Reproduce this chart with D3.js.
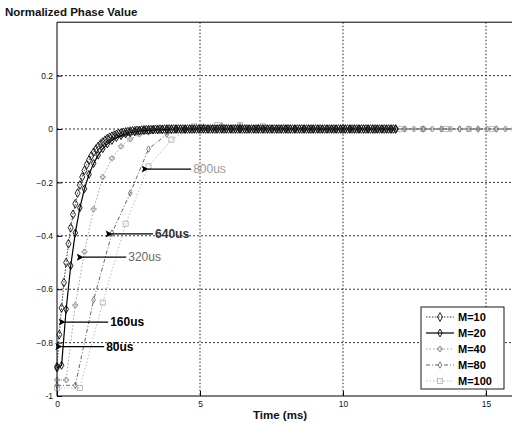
<!DOCTYPE html>
<html>
<head>
<meta charset="utf-8">
<script src="https://cdn.jsdelivr.net/npm/d3@7"></script>
<style>
  body { margin: 0; background: #fff; }
  svg { display: block; font-family: "Liberation Sans", Arial, sans-serif; }
</style>
</head>
<body>
<div id="chart"></div>
<script>
// sample spacing (ms) for each series is M * 8us
const seriesNames = ["M=10", "M=20", "M=40", "M=80", "M=100"];
const sampleStep = [0.08, 0.16, 0.32, 0.64, 0.8];

// normalized phase values
const m10 = [
  -0.89, -0.77, -0.67, -0.575, -0.50, -0.43, -0.37, -0.32, -0.28, -0.24,
  -0.21, -0.18, -0.155, -0.134, -0.116, -0.10, -0.087, -0.075, -0.065, -0.056,
  -0.049, -0.042, -0.036, -0.031, -0.027, -0.023, -0.020, -0.017, -0.015, -0.013,
  -0.011, -0.010, -0.008, -0.007, -0.006, -0.005, -0.005, -0.004, -0.003, -0.003,
  -0.002, -0.002, -0.002, -0.001, -0.001, -0.001, -0.001,
  0, 0, 0, 0, 0, 0, 0, 0, 0, 0, 0, 0, 0, 0, 0, 0, 0,
  0, 0, 0, 0, 0, 0, 0, 0, 0, 0, 0, 0, 0, 0, 0, 0, 0,
  0, 0, 0, 0, 0, 0, 0, 0, 0, 0, 0, 0, 0, 0, 0, 0, 0,
  0, 0, 0, 0, 0, 0, 0, 0, 0, 0, 0, 0, 0, 0, 0, 0, 0,
  0, 0, 0, 0, 0, 0, 0, 0, 0, 0, 0, 0, 0, 0, 0, 0, 0,
  0, 0, 0, 0, 0, 0, 0, 0, 0, 0, 0, 0, 0, 0, 0, 0, 0
];
const m20 = [
  -0.895, -0.885, -0.675, -0.512, -0.389, -0.295, -0.224, -0.170, -0.129, -0.098,
  -0.074, -0.056, -0.043, -0.032, -0.025, -0.019, -0.014, -0.011, -0.008, -0.006,
  -0.005, -0.004, -0.003, -0.002, -0.002, -0.001,
  0, 0, 0, 0, 0, 0, 0, 0, 0, 0, 0, 0, 0, 0, 0, 0, 0,
  0, 0, 0, 0, 0, 0, 0, 0, 0, 0, 0, 0, 0, 0, 0, 0, 0,
  0, 0, 0, 0, 0, 0, 0, 0, 0, 0, 0, 0, 0, 0, 0
];
const m40 = [
  -0.94, -0.94, -0.66, -0.46, -0.30, -0.18, -0.11, -0.065, -0.038, -0.02,
  -0.012, -0.006, -0.003, -0.001, 0.002, 0.003, 0.003, 0.002, 0.001,
  0, 0, 0, 0, 0, 0, 0, 0, 0, 0, 0, 0, 0, 0, 0, 0, 0,
  0, 0, 0, 0, 0, 0, 0, 0, 0, 0, 0, 0, 0, 0, 0
];
const m80 = [
  -0.96, -0.96, -0.64, -0.39, -0.24, -0.075, -0.02, -0.005, 0.008, 0.012,
  0.01, 0.006, 0.003, 0.001,
  0, 0, 0, 0, 0, 0, 0, 0, 0, 0, 0, 0
];
const m100 = [
  -0.97, -0.97, -0.65, -0.355, -0.14, -0.04, 0.01, 0.015, 0.015, 0.01,
  0.005, 0.002,
  0, 0, 0, 0, 0, 0, 0, 0, 0
];
const seriesValues = [m10, m20, m40, m80, m100];

const xTicks = [0, 5, 10, 15];
const yTicks = [-1, -0.8, -0.6, -0.4, -0.2, 0, 0.2];

// arrow annotations: tip at (t, v), label starting at time tText
const notes = [
  {label: "80us",  t: 0.16, v: -0.815, tText: 1.72, color: "#000", bold: true},
  {label: "160us", t: 0.28, v: -0.723, tText: 1.86, color: "#000", bold: true},
  {label: "320us", t: 0.91, v: -0.48,  tText: 2.49, color: "#666", bold: false},
  {label: "640us", t: 1.92, v: -0.393, tText: 3.43, color: "#333", bold: true},
  {label: "800us", t: 3.18, v: -0.15,  tText: 4.76, color: "#999", bold: false}
];

const width = 512, height = 424;
const svg = d3.select("#chart").append("svg")
  .attr("width", width).attr("height", height);

const x = d3.scaleLinear([0, 16], [57, 514.6]);
const y = d3.scaleLinear([-1, 0.4], [396, 22.2]);

const styles = [
  {stroke: "#222", width: 0.9, dash: "1.5,1.5", symbol: d3.symbolDiamond, size: 22, mstroke: "#111", mw: 0.9},
  {stroke: "#000", width: 1.2, dash: null,      symbol: d3.symbolDiamond, size: 18, mstroke: "#000", mw: 0.9},
  {stroke: "#888", width: 0.8, dash: "1.5,2",   symbol: d3.symbolCross,   size: 14, mstroke: "#888", mw: 0.8},
  {stroke: "#555", width: 0.9, dash: "4,2,1,2", symbol: d3.symbolDiamond, size: 12, mstroke: "#666", mw: 0.8},
  {stroke: "#aaa", width: 0.8, dash: "1.5,2",   symbol: d3.symbolSquare,  size: 26, mstroke: "#aaa", mw: 0.8}
];

// grid
const grid = svg.append("g");
grid.selectAll(".gx").data(xTicks.filter(d => d > 0)).join("line")
  .attr("x1", d => x(d)).attr("x2", d => x(d))
  .attr("y1", y(0.4)).attr("y2", y(-1))
  .attr("stroke", "#222").attr("stroke-width", 1).attr("stroke-dasharray", "1.5,2");
grid.selectAll(".gy").data(yTicks.filter(d => d > -1)).join("line")
  .attr("x1", x(0)).attr("x2", x(16))
  .attr("y1", d => y(d)).attr("y2", d => y(d))
  .attr("stroke", "#222").attr("stroke-width", 0.9).attr("stroke-dasharray", "2,2");

// curves (drawn so the darker series end up on top)
const line = d3.line().x(d => x(d[0])).y(d => y(d[1]));
const plot = svg.append("g");
[4, 3, 2, 1, 0].forEach(k => {
  const vals = seriesValues[k];
  const pts = vals.map((v, i) => [i * sampleStep[k], v]);
  const st = styles[k];
  plot.append("path")
    .attr("d", line(pts))
    .attr("fill", "none")
    .attr("stroke", st.stroke)
    .attr("stroke-width", st.width)
    .attr("stroke-dasharray", st.dash);
  plot.append("g").selectAll("path").data(pts).join("path")
    .attr("transform", d => `translate(${x(d[0])},${y(d[1])})`)
    .attr("d", d3.symbol(st.symbol, st.size))
    .attr("fill", "none")
    .attr("stroke", st.mstroke)
    .attr("stroke-width", st.mw);
});

// axes box
svg.append("line").attr("x1", x(0)).attr("x2", x(0)).attr("y1", y(0.4)).attr("y2", y(-1))
  .attr("stroke", "#000");
svg.append("line").attr("x1", x(0)).attr("x2", x(16)).attr("y1", y(0.4)).attr("y2", y(0.4))
  .attr("stroke", "#000");
svg.append("line").attr("x1", x(0)).attr("x2", x(16)).attr("y1", y(-1)).attr("y2", y(-1))
  .attr("stroke", "#000");

const xAxis = svg.append("g")
  .attr("transform", `translate(0,${y(-1)})`)
  .call(d3.axisBottom(x).tickValues(xTicks).tickSize(-5).tickPadding(5).tickFormat(d3.format("d")));
const yAxis = svg.append("g")
  .attr("transform", `translate(${x(0)},0)`)
  .call(d3.axisLeft(y).tickValues(yTicks).tickSize(-5).tickPadding(4)
    .tickFormat(d => d === 0 ? "0" : d === -1 ? "-1" : d3.format(".1f")(d)));
[xAxis, yAxis].forEach(a => {
  a.select(".domain").remove();
  a.selectAll("text").attr("font-size", 8.5).attr("fill", "#111")
    .attr("font-family", "Liberation Sans, Arial, sans-serif");
});

// annotations
svg.append("defs").append("marker")
  .attr("id", "ah").attr("viewBox", "0 0 10 10")
  .attr("refX", 1).attr("refY", 5)
  .attr("markerWidth", 11).attr("markerHeight", 7)
  .attr("markerUnits", "userSpaceOnUse")
  .attr("orient", "auto-start-reverse")
  .append("path").attr("d", "M0,5 L10,0 L8,5 L10,10 Z").attr("fill", "#000");

const ann = svg.append("g");
notes.forEach(n => {
  ann.append("line")
    .attr("x1", x(n.t)).attr("y1", y(n.v))
    .attr("x2", x(n.tText) - 2).attr("y2", y(n.v))
    .attr("stroke", "#000").attr("stroke-width", 1.2)
    .attr("marker-start", "url(#ah)");
  ann.append("text")
    .attr("x", x(n.tText)).attr("y", y(n.v))
    .attr("dy", "0.36em")
    .attr("font-size", 12)
    .attr("font-weight", n.bold ? "bold" : "normal")
    .attr("fill", n.color)
    .text(n.label);
});

// legend
const lg = svg.append("g").attr("transform", "translate(421,307)");
lg.append("rect").attr("width", 83).attr("height", 82)
  .attr("fill", "#fff").attr("stroke", "#000").attr("stroke-width", 0.9);
seriesNames.forEach((name, k) => {
  const st = styles[k];
  const yy = 10 + k * 16;
  lg.append("line").attr("x1", 5).attr("x2", 33).attr("y1", yy).attr("y2", yy)
    .attr("stroke", st.stroke).attr("stroke-width", st.width)
    .attr("stroke-dasharray", st.dash);
  lg.append("path").attr("transform", `translate(19,${yy})`)
    .attr("d", d3.symbol(st.symbol, st.size)).attr("fill", "none")
    .attr("stroke", st.mstroke).attr("stroke-width", st.mw);
  lg.append("text").attr("x", 37).attr("y", yy).attr("dy", "0.36em")
    .attr("font-size", 11).attr("font-weight", "bold").attr("fill", "#000")
    .text(name);
});

// titles
svg.append("text").attr("x", 5).attr("y", 16)
  .attr("font-size", 11.5).attr("font-weight", "bold").attr("fill", "#111")
  .text("Normalized Phase Value");
svg.append("text").attr("x", 253).attr("y", 419)
  .attr("font-size", 11.5).attr("font-weight", "bold").attr("fill", "#111")
  .text("Time (ms)");
</script>
</body>
</html>
